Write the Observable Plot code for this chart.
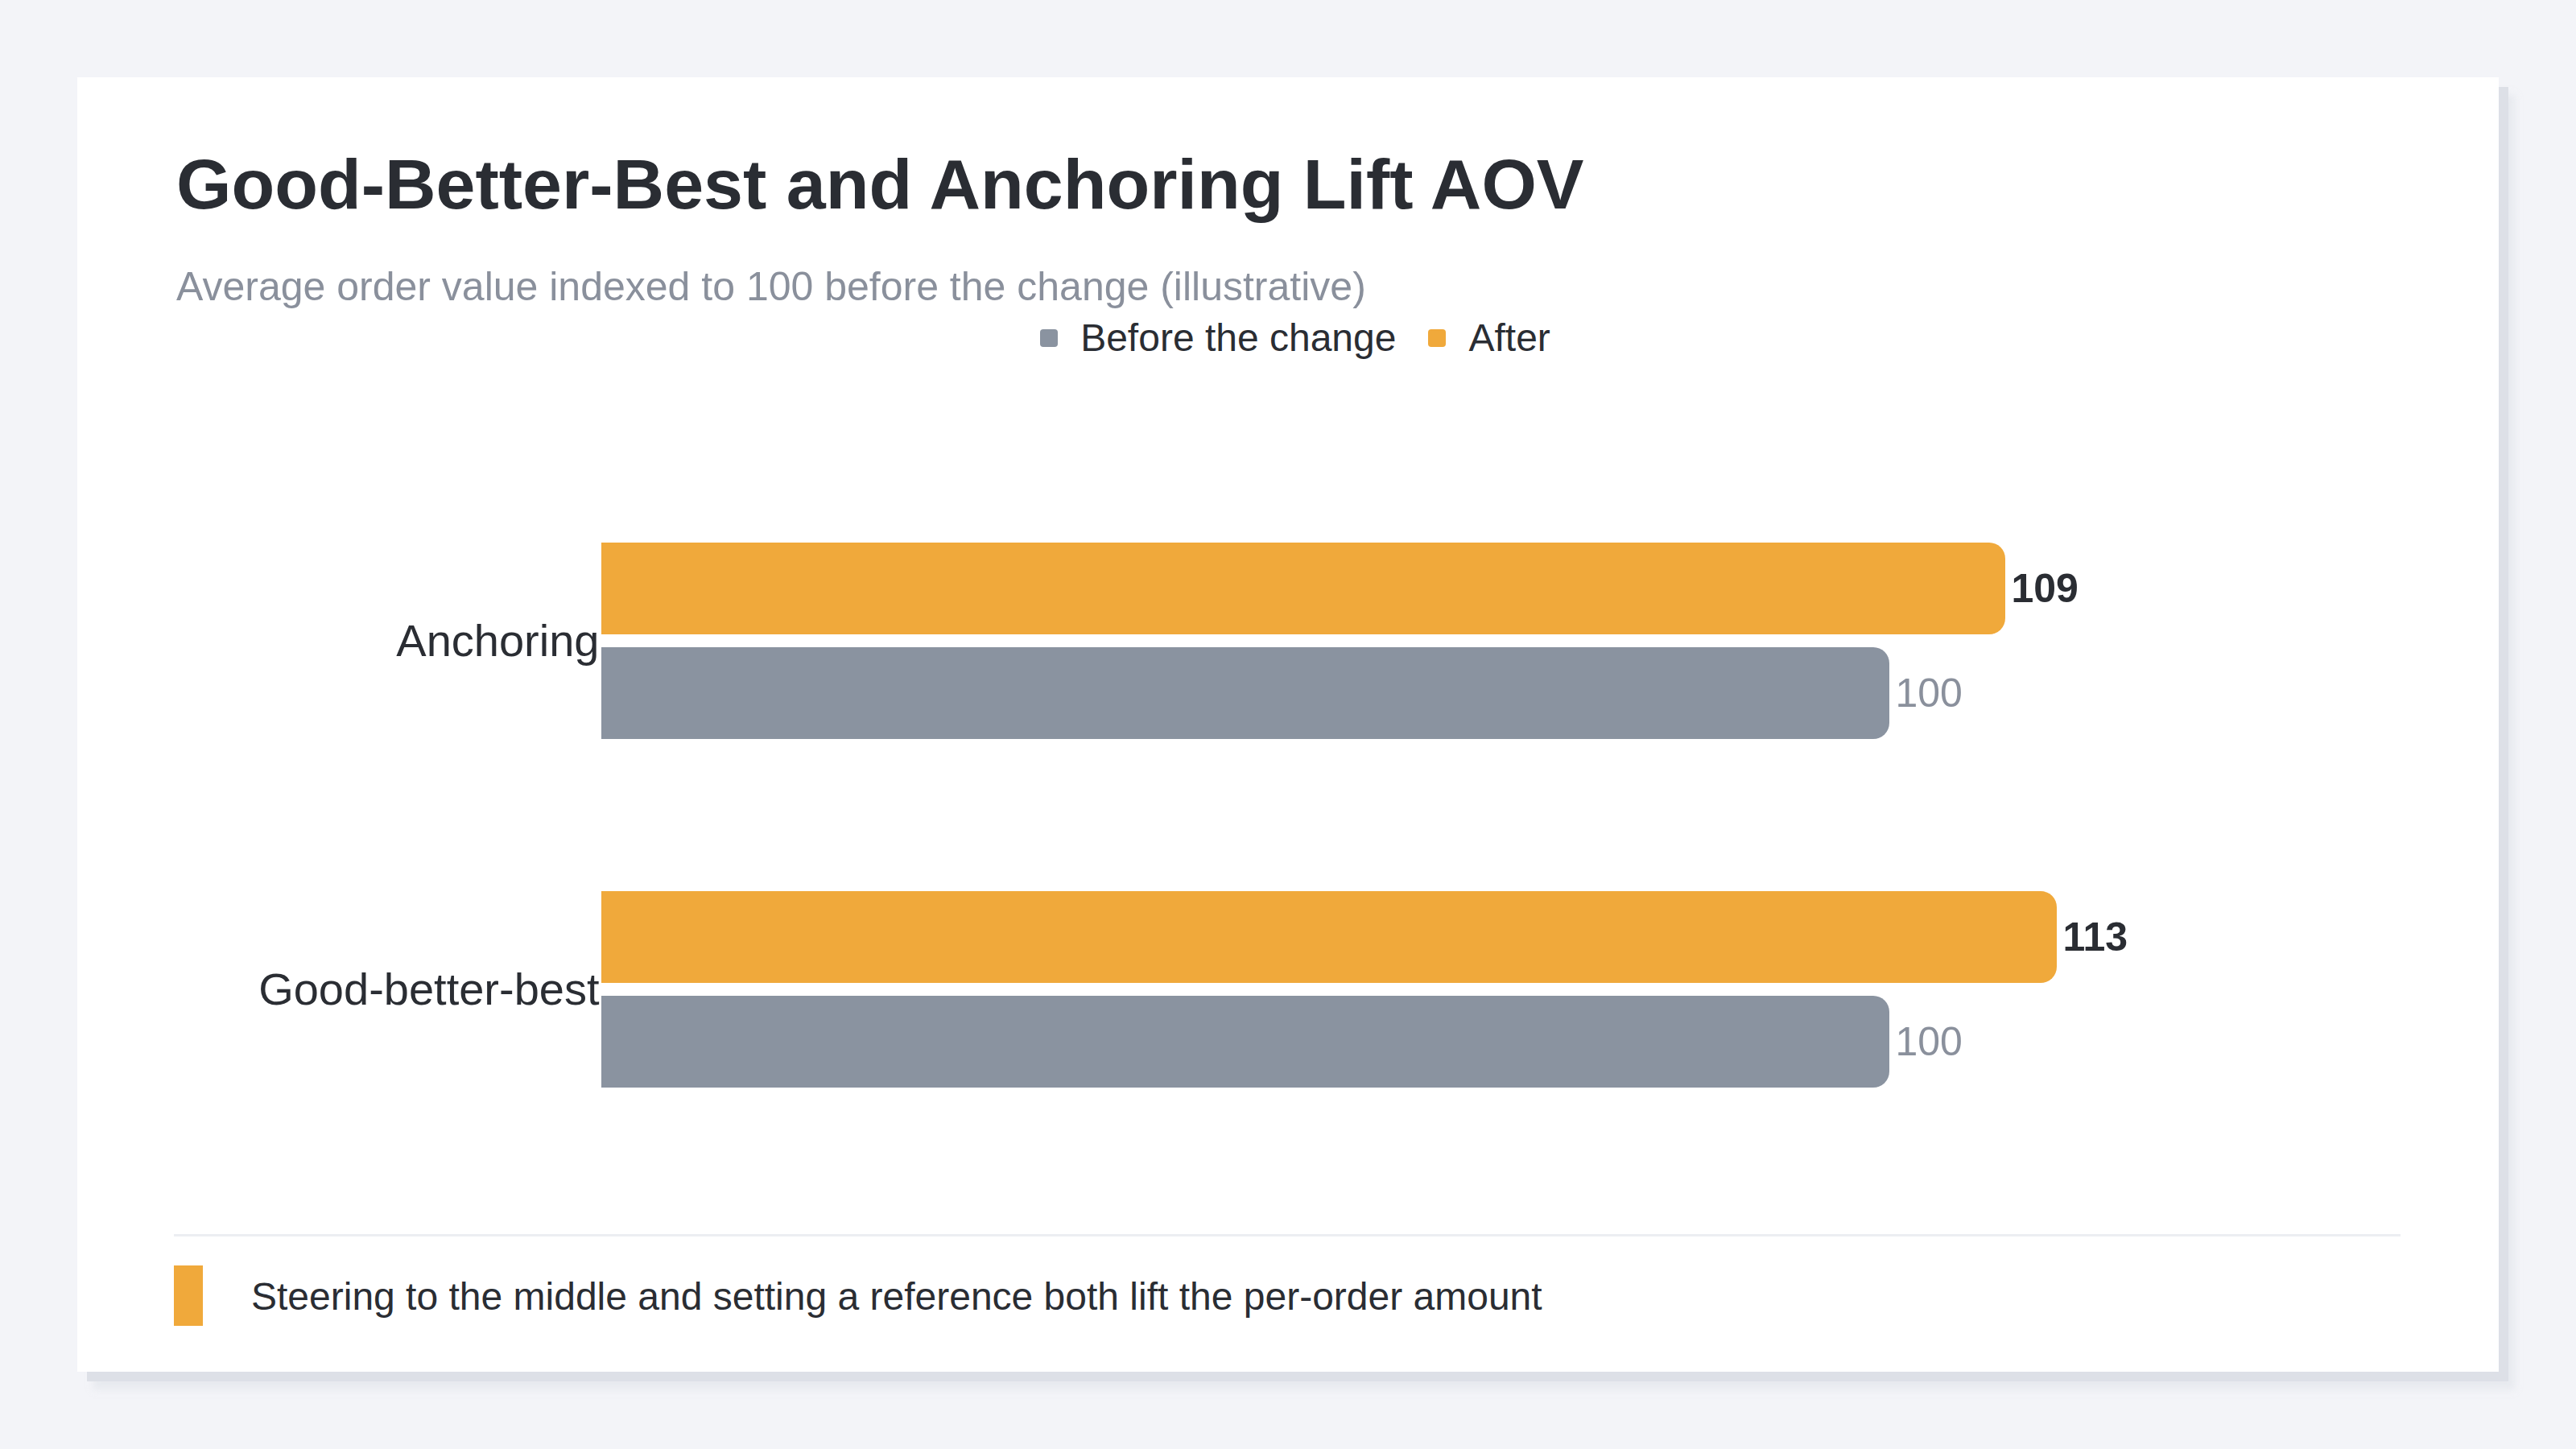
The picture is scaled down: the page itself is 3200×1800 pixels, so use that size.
<!DOCTYPE html>
<html>
<head>
<meta charset="utf-8">
<script src="https://cdn.jsdelivr.net/npm/d3@7"></script>
<script src="https://cdn.jsdelivr.net/npm/@observablehq/plot@0.6"></script>
<style>
  html, body { margin: 0; padding: 0; }
  body { width: 3200px; height: 1800px; background: #f3f4f8; font-family: "Liberation Sans", Arial, Helvetica, sans-serif; position: relative; overflow: hidden; }
  #card { position: absolute; left: 96px; top: 96px; width: 3008px; height: 1608px; background: #ffffff;
          box-shadow: 12px 12px 0 #dde0e7, 20px 22px 8px rgba(222,225,232,0.55); }
  .abs { position: absolute; white-space: nowrap; }
  #title { left: 123px; top: 89px; font-size: 88px; line-height: 88px; font-weight: bold; color: #2a2d33; }
  #subtitle { left: 123px; top: 235px; font-size: 50px; line-height: 50px; color: #8a909c; }
  #legend { left: 0; width: 2990px; padding-left: 18px; top: 300px; display: flex; justify-content: center; font-size: 48px; line-height: 48px; color: #2a2d33; }
  .item { display: flex; align-items: center; margin: 0 20px; }
  .sw { width: 22px; height: 22px; border-radius: 4px; margin-right: 28px; }
  #chart { left: 120px; top: 384px; }
  #divider { left: 120px; top: 1437px; width: 2766px; height: 3px; background: #eceef2; }
  #mark { left: 120px; top: 1476px; width: 36px; height: 75px; background: #f0a93b; }
  #note { left: 216px; top: 1491px; font-size: 48px; line-height: 48px; color: #2a2d33; }
</style>
</head>
<body>
<div id="card">
  <div id="title" class="abs"></div>
  <div id="subtitle" class="abs"></div>
  <div id="legend" class="abs"></div>
  <div id="chart" class="abs"></div>
  <div id="divider" class="abs"></div>
  <div id="mark" class="abs"></div>
  <div id="note" class="abs"></div>
</div>
<script>
const titleText = "Good-Better-Best and Anchoring Lift AOV";
const subtitleText = "Average order value indexed to 100 before the change (illustrative)";
const noteText = "Steering to the middle and setting a reference both lift the per-order amount";

const categories = ["Anchoring", "Good-better-best"];
const seriesNames = ["After", "Before the change"];
const legendOrder = ["Before the change", "After"];
const seriesColors = ["#f0a93b", "#8a93a0"];
const afterValues = [109, 113];
const beforeValues = [100, 100];

document.getElementById("title").textContent = titleText;
document.getElementById("subtitle").textContent = subtitleText;
document.getElementById("note").textContent = noteText;

const legend = document.getElementById("legend");
legendOrder.forEach(name => {
  const item = document.createElement("div");
  item.className = "item";
  const sw = document.createElement("div");
  sw.className = "sw";
  sw.style.background = seriesColors[seriesNames.indexOf(name)];
  const lab = document.createElement("span");
  lab.textContent = name;
  item.appendChild(sw); item.appendChild(lab);
  legend.appendChild(item);
});

const data = [];
categories.forEach((c, i) => {
  data.push({category: c, series: seriesNames[0], value: afterValues[i]});
  data.push({category: c, series: seriesNames[1], value: beforeValues[i]});
});

const chart = Plot.plot({
  width: 2766,
  height: 1020,
  marginLeft: 531,
  marginRight: 59,
  marginTop: 193,
  marginBottom: 148,
  style: {fontFamily: "'Liberation Sans', Arial, sans-serif", fontSize: "56px", color: "#2a2d33", background: "transparent", overflow: "visible"},
  x: {domain: [0, 136], axis: null},
  y: {domain: seriesNames, paddingInner: 0.1226, paddingOuter: 0, axis: null},
  fy: {domain: categories, paddingInner: 0.435, paddingOuter: 0, label: null, tickSize: 0, tickPadding: 3, axis: "left"},
  color: {domain: seriesNames, range: seriesColors},
  marks: [
    Plot.barX(data, {x: "value", y: "series", fy: "category", fill: "series", rx2: 20}),
    Plot.text(data.filter(d => d.series === seriesNames[0]), {x: "value", y: "series", fy: "category", text: d => String(d.value), dx: 7, textAnchor: "start", fontWeight: "bold", fill: "#2a2d33", fontSize: 50}),
    Plot.text(data.filter(d => d.series === seriesNames[1]), {x: "value", y: "series", fy: "category", text: d => String(d.value), dx: 7, textAnchor: "start", fill: "#8a909c", fontSize: 50})
  ]
});
document.getElementById("chart").appendChild(chart);
</script>
</body>
</html>
